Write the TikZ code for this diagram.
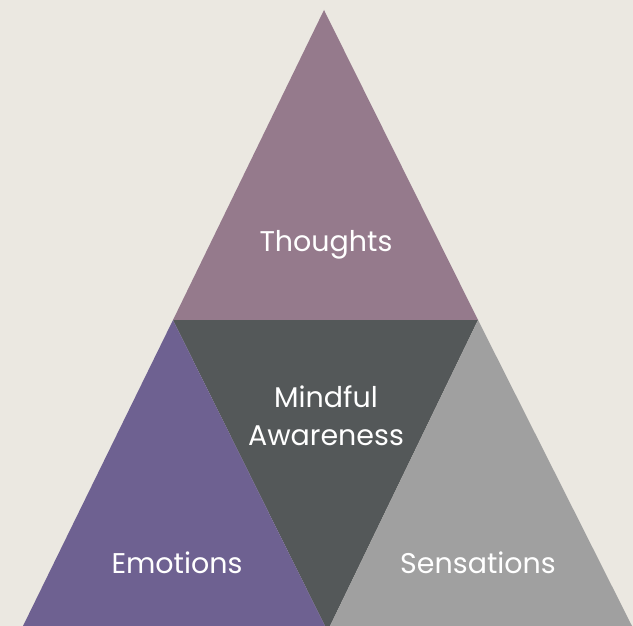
\documentclass[tikz,border=0pt]{standalone}
\usepackage{fontspec}
\setmainfont{Poppins}
\definecolor{paper}{HTML}{EBE8E1}
\definecolor{mauve}{HTML}{957A8C}
\definecolor{violet}{HTML}{6E6191}
\definecolor{slate}{HTML}{545859}
\definecolor{ash}{HTML}{A0A0A0}
\begin{document}
\begin{tikzpicture}[
    x=1pt, y=1pt,
    piece/.style={draw=none},
    label/.style={text=white, font=\fontsize{28.5}{38}\selectfont, align=center}
]

% Canvas
\fill[paper] (0,0) rectangle (633,626);
\useasboundingbox (0,0) rectangle (633,626);

% Corners
\coordinate (apex) at (324,616);
\coordinate (bl) at (173,306);
\coordinate (br) at (478,306);
\coordinate (l0) at (23,0);
\coordinate (l1) at (325,0);
\coordinate (r0) at (330,0);
\coordinate (r1) at (632,0);

% Pieces
\fill[piece, slate] (bl) -- (br) -- (r0) -- (l1) -- cycle;
\fill[piece, mauve] (apex) -- (br) -- (bl) -- cycle;
\fill[piece, violet] (bl) -- (l1) -- (l0) -- cycle;
\fill[piece, ash] (br) -- (r1) -- (r0) -- cycle;

% Labels
\node[label] (thoughts) at (326,381) {Thoughts};
\node[label] (aware) at (326,210) {Mindful\\Awareness};
\node[label] (emotions) at (177,63) {Emotions};
\node[label] (sensations) at (478,63) {Sensations};

\end{tikzpicture}
\end{document}
